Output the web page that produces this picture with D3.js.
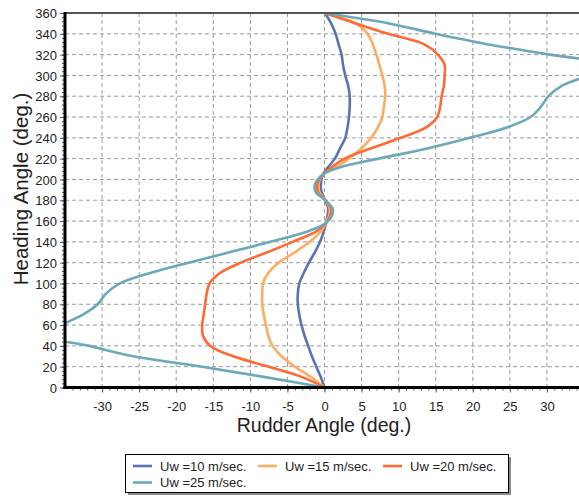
<!DOCTYPE html>
<html>
  <head>
    <meta charset="utf-8">
    <script src="https://d3js.org/d3.v7.min.js"></script>
    <title>Rudder angle vs heading angle</title>
    <style>
      body { margin: 0px; background: #fff; }
      svg { display: block; }
      .tick text { fill: #222; font-size: 13px; font-family: "Liberation Sans", Arial, sans-serif; }
      .axis path { display: none; }
      .axis .tick line { stroke: #555; }
      .grid line { stroke: #9a9a9a; stroke-dasharray: 4,3; stroke-width: 1; }
      .axis-label { fill: #222; font-family: "Liberation Sans", Arial, sans-serif; }
      .legend text { fill: #222; font-size: 13px; font-family: "Liberation Sans", Arial, sans-serif; }
    </style>
  </head>
  <body>
    <svg width="579" height="497"></svg>
    <script>
      // heading angle (deg.) shared by all series
      const headings = [0, 10, 20, 30, 40, 50, 60, 70, 80, 90, 100, 110, 120, 130, 140, 150,
                        158, 165, 172, 180, 188, 195, 205, 212, 220, 230, 240, 250, 260, 270,
                        280, 290, 300, 310, 320, 330, 340, 350, 355, 360];
      // rudder angle (deg.) for each wind speed
      const rudder10 = [0, -0.5, -1.1, -1.7, -2.2, -2.7, -3.1, -3.4, -3.6, -3.6, -3.4, -2.8, -2.1, -1.3, -0.6, -0.1,
                        0.2, 0.4, 0.5, 0.1, -0.4, -0.5, -0.2, 0.5, 1.4, 2.1, 2.8, 3.1, 3.3, 3.4,
                        3.4, 3.2, 2.8, 2.5, 2.3, 1.9, 1.5, 0.9, 0.5, 0];
      const rudder15 = [0, -1.8, -4.0, -5.8, -7.0, -7.6, -7.9, -8.2, -8.4, -8.4, -8.3, -7.6, -6.2, -4.0, -2.0, -0.5,
                        0.2, 0.6, 0.7, 0.1, -0.7, -0.8, -0.2, 1.6, 3.3, 5.0, 6.3, 7.2, 7.8, 8.0,
                        8.2, 8.1, 7.8, 7.4, 7.0, 6.5, 5.8, 4.3, 2.4, 0];
      const rudder20 = [0, -3.0, -7.5, -12.3, -15.4, -16.4, -16.5, -16.3, -16.1, -15.9, -15.5, -14.1, -11.3, -7.7, -4.3, -1.1,
                        0.2, 0.8, 0.9, 0.1, -0.9, -1.0, -0.2, 1.0, 2.7, 6.3, 10.3, 13.7, 15.2, 15.6,
                        15.8, 16.1, 16.2, 16.2, 15.3, 13.4, 8.6, 4.2, 2.1, 0];
      const rudder25 = [0, -8.0, -16.5, -25.8, -31.7, -38.0, -35.5, -32.6, -30.6, -29.5, -27.6, -23.5, -18.3, -12.8, -7.3, -2.3,
                        0.2, 1.0, 1.1, 0.1, -1.2, -1.3, -0.2, 2.2, 7.3, 14.0, 19.6, 24.6, 27.8, 29.2,
                        30.2, 32.0, 35.5, 38.0, 30.4, 21.9, 15.0, 8.7, 4.5, 0];
      const seriesNames = ['Uw =10 m/sec.', 'Uw =15 m/sec.', 'Uw =20 m/sec.', 'Uw =25 m/sec.'];
      const seriesColors = ['#5a73b3', '#ffab60', '#ff6a33', '#6ba8b9'];
      const xTickValues = [-30, -25, -20, -15, -10, -5, 0, 5, 10, 15, 20, 25, 30];
      const yTickValues = [0, 20, 40, 60, 80, 100, 120, 140, 160, 180, 200, 220, 240, 260, 280, 300, 320, 340, 360];

      const series = [rudder10, rudder15, rudder20, rudder25].map((vals, i) => ({
        name: seriesNames[i],
        color: seriesColors[i],
        points: vals.map((r, j) => ({ r: r, h: headings[j] }))
      }));

      const svg = d3.select('svg');
      const margin = { left: 65, top: 13 };
      const innerWidth = 519;
      const innerHeight = 374.5;
      const g = svg.append('g')
          .attr('transform', `translate(${margin.left}, ${margin.top})`);

      const xScale = d3.scaleLinear().domain([-35, 35]).range([0, innerWidth]);
      const yScale = d3.scaleLinear().domain([0, 360]).range([innerHeight, 0]);

      // dashed grid
      const grid = g.append('g').attr('class', 'grid');
      grid.selectAll('.vx').data(xTickValues)
        .enter().append('line')
          .attr('x1', d => xScale(d)).attr('x2', d => xScale(d))
          .attr('y1', 0).attr('y2', innerHeight);
      grid.selectAll('.hy').data(yTickValues.slice(1, -1))
        .enter().append('line')
          .attr('x1', 0).attr('x2', innerWidth)
          .attr('y1', d => yScale(d)).attr('y2', d => yScale(d));

      // minor ticks
      const minorX = d3.axisBottom(xScale).tickValues(d3.range(-34, 35, 1)).tickSize(3).tickFormat('');
      g.append('g').attr('class', 'axis')
          .attr('transform', `translate(0, ${innerHeight})`).call(minorX);
      const minorY = d3.axisLeft(yScale).tickValues(d3.range(0, 361, 4)).tickSize(3).tickFormat('');
      g.append('g').attr('class', 'axis').call(minorY);

      // major ticks + labels
      const xAxis = d3.axisBottom(xScale).tickValues(xTickValues).tickSize(5).tickPadding(9)
        .tickFormat(d => d < 0 ? '-' + Math.abs(d) : d);
      g.append('g').attr('class', 'axis')
          .attr('transform', `translate(0, ${innerHeight})`).call(xAxis);
      const yAxis = d3.axisLeft(yScale).tickValues(yTickValues).tickSize(5).tickPadding(3);
      g.append('g').attr('class', 'axis').call(yAxis)
        .selectAll('.tick text').attr('dy', '0.36em');

      // curves
      g.append('clipPath').attr('id', 'plot-clip')
        .append('rect').attr('width', innerWidth).attr('height', innerHeight);
      const line = d3.line()
        .x(d => xScale(d.r))
        .y(d => yScale(d.h))
        .curve(d3.curveCatmullRom.alpha(0.5));
      g.append('g').attr('clip-path', 'url(#plot-clip)')
        .selectAll('path').data(series)
        .enter().append('path')
          .attr('fill', 'none')
          .attr('stroke', d => d.color)
          .attr('stroke-width', 2.6)
          .attr('stroke-linejoin', 'round')
          .attr('d', d => line(d.points));

      // frame: top border, thick left and bottom axes
      g.append('line').attr('x1', 0).attr('x2', innerWidth).attr('y1', 0).attr('y2', 0)
        .attr('stroke', '#555').attr('stroke-width', 2);
      g.append('line').attr('x1', 0).attr('x2', 0).attr('y1', -1).attr('y2', innerHeight + 1.5)
        .attr('stroke', '#000').attr('stroke-width', 3);
      g.append('line').attr('x1', -1.5).attr('x2', innerWidth).attr('y1', innerHeight).attr('y2', innerHeight)
        .attr('stroke', '#000').attr('stroke-width', 3);

      // axis titles
      svg.append('text').attr('class', 'axis-label')
        .attr('x', 324).attr('y', 432)
        .style('font-size', '19.5px')
        .style('text-anchor', 'middle')
        .text('Rudder Angle (deg.)');
      svg.append('text').attr('class', 'axis-label')
        .attr('transform', 'translate(28, 189) rotate(-90)')
        .style('font-size', '20.5px')
        .style('text-anchor', 'middle')
        .text('Heading Angle (deg.)');

      // legend
      const legend = svg.append('g').attr('class', 'legend')
        .attr('transform', 'translate(125, 454)');
      legend.append('rect').attr('x', 3).attr('y', 3).attr('width', 383).attr('height', 38)
        .attr('fill', '#8a8a8a');
      legend.append('rect').attr('x', 0.5).attr('y', 0.5).attr('width', 383).attr('height', 38)
        .attr('fill', '#fff').attr('stroke', '#000');
      const legendPos = [[8, 12], [133, 12], [258, 12], [8, 28.5]];
      const cells = legend.selectAll('.cell').data(series)
        .enter().append('g')
          .attr('transform', (d, i) => `translate(${legendPos[i][0]}, ${legendPos[i][1]})`);
      cells.append('line').attr('x1', 0).attr('x2', 19).attr('y1', 0).attr('y2', 0)
        .attr('stroke', d => d.color).attr('stroke-width', 2.6);
      cells.append('text').attr('x', 27).attr('y', 0).attr('dy', '0.36em')
        .text(d => d.name);
    </script>
  </body>
</html>
